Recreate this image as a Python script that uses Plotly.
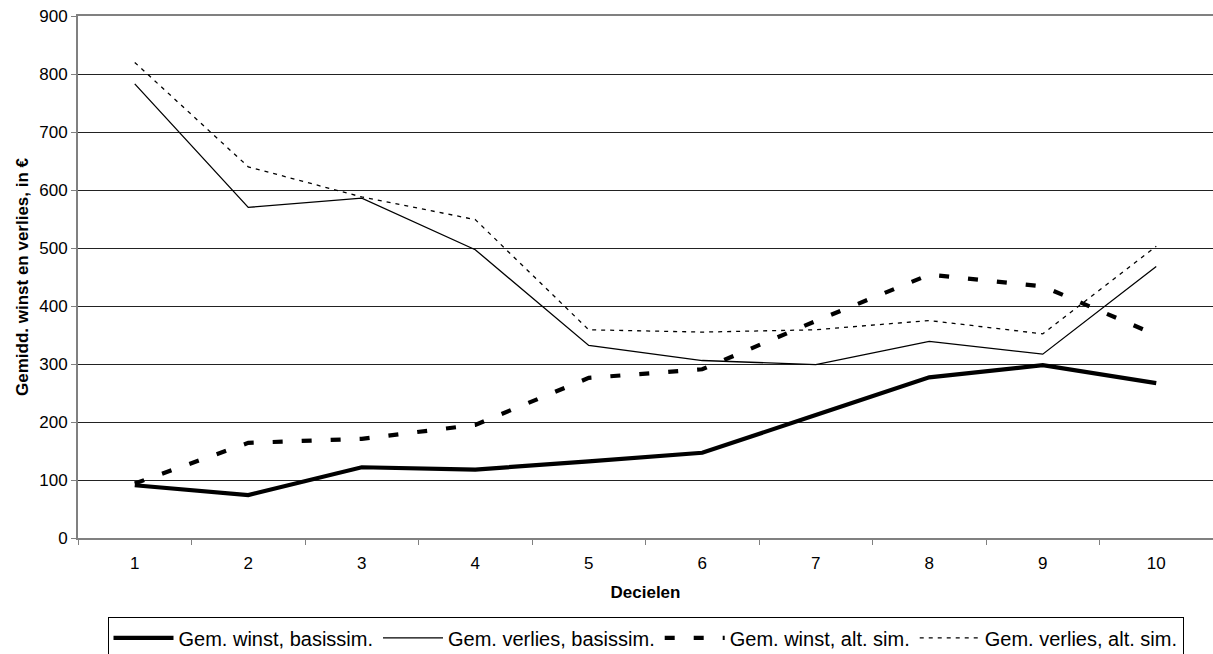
import plotly.graph_objects as go

# Deciles on the x axis
decielen = ["1", "2", "3", "4", "5", "6", "7", "8", "9", "10"]

# Average gain / loss per decile, in euro
winst_basis = [91, 74, 122, 118, 132, 147, 212, 277, 298, 267]
verlies_basis = [783, 570, 586, 497, 332, 306, 299, 339, 317, 468]
winst_alt = [94, 164, 171, 195, 276, 291, 374, 454, 434, 350]
verlies_alt = [820, 640, 588, 549, 359, 355, 359, 375, 352, 503]

y_ticks = [0, 100, 200, 300, 400, 500, 600, 700, 800, 900]

FONT = "Arial, Liberation Sans, sans-serif"

fig = go.Figure()

fig.add_trace(go.Scatter(
    x=decielen, y=winst_basis, mode="lines",
    name="Gem. winst, basissim.",
    line=dict(color="#000000", width=4.2),
))
fig.add_trace(go.Scatter(
    x=decielen, y=verlies_basis, mode="lines",
    name="Gem. verlies, basissim.",
    line=dict(color="#000000", width=1.3),
))
fig.add_trace(go.Scatter(
    x=decielen, y=winst_alt, mode="lines",
    name="Gem. winst, alt. sim.",
    line=dict(color="#000000", width=4.2, dash="10px,19px"),
))
fig.add_trace(go.Scatter(
    x=decielen, y=verlies_alt, mode="lines",
    name="Gem. verlies, alt. sim.",
    line=dict(color="#000000", width=1.3, dash="4px,5px"),
))

fig.update_layout(
    width=1213, height=654,
    margin=dict(l=78, r=0, t=16, b=116, autoexpand=False),
    paper_bgcolor="#ffffff",
    plot_bgcolor="#ffffff",
    font=dict(family=FONT, color="#000000", size=17),
    showlegend=True,
    legend=dict(
        orientation="h",
        x=0.5, xanchor="center",
        yref="container", y=0.056, yanchor="top",
        font=dict(family=FONT, size=20, color="#000000"),
        bordercolor="#000000", borderwidth=1,
        bgcolor="#ffffff",
        itemwidth=60,
        tracegroupgap=0,
    ),
)

fig.update_xaxes(
    type="category",
    categoryorder="array", categoryarray=decielen,
    range=[-0.5, 9.5],
    tickson="boundaries",
    ticks="outside", ticklen=5, tickcolor="#808080", tickwidth=1,
    ticklabelstandoff=9,
    showline=True, linecolor="#808080", linewidth=2, mirror=True,
    showgrid=False, zeroline=False,
    tickfont=dict(family=FONT, size=17, color="#000000"),
    title=dict(text="<b>Decielen</b>", font=dict(family=FONT, size=17), standoff=14),
)

fig.update_yaxes(
    range=[0, 900],
    tickvals=y_ticks,
    ticks="outside", ticklen=5, tickcolor="#808080", tickwidth=1,
    showline=True, linecolor="#808080", linewidth=2,
    showgrid=True, gridcolor="#222222", gridwidth=1,
    zeroline=False,
    tickfont=dict(family=FONT, size=17, color="#000000"),
    title=dict(text="<b>Gemidd. winst en verlies, in €</b>", font=dict(family=FONT, size=17), standoff=6),
)

fig.write_html("out.html")
